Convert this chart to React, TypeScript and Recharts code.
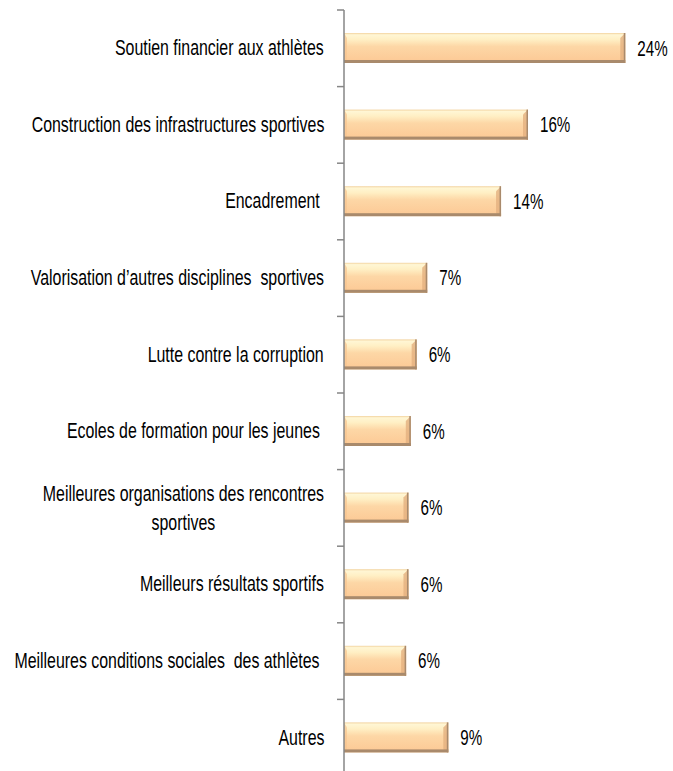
import React from "react";
import { BarChart, Bar, XAxis, YAxis, LabelList } from "recharts";

// Catégories (de haut en bas)
const categories = [
  "Soutien financier aux athlètes",
  "Construction des infrastructures sportives",
  "Encadrement ",
  "Valorisation d’autres disciplines  sportives",
  "Lutte contre la corruption",
  "Ecoles de formation pour les jeunes ",
  "Meilleures organisations des rencontres\nsportives",
  "Meilleurs résultats sportifs",
  "Meilleures conditions sociales  des athlètes ",
  "Autres",
];

const values = [24, 15.7, 13.4, 7.1, 6.2, 5.7, 5.5, 5.5, 5.3, 8.9];

// Étiquettes affichées
const valueLabels = ["24%", "16%", "14%", "7%", "6%", "6%", "6%", "6%", "6%", "9%"];

const data = categories.map((name, i) => ({
  name,
  value: values[i],
  label: valueLabels[i],
}));

const FONT = "'Liberation Sans', Arial, sans-serif";
const AXIS_COLOR = "#868686";

const CategoryTick = (props: any) => {
  const { x, y, payload, index } = props;
  const off = payload?.offset || 38.3;
  const last = index === categories.length - 1;
  return (
    <g>
      <line x1={x - 7} x2={x} y1={y - off} y2={y - off} stroke={AXIS_COLOR} strokeWidth={1.5} />
      {last && <line x1={x - 7} x2={x} y1={y + off} y2={y + off} stroke={AXIS_COLOR} strokeWidth={1.5} />}
      <foreignObject x={0} y={y - off} width={x} height={off * 2}>
        <div
          style={{
            display: "flex",
            height: "100%",
            alignItems: "center",
            justifyContent: "flex-end",
            paddingRight: 20,
            boxSizing: "border-box",
          }}
        >
          <div
            style={{
              textAlign: "center",
              whiteSpace: "pre",
              fontFamily: FONT,
              fontSize: 18.5,
              lineHeight: "24px",
              color: "#000",
              transform: "scale(0.86, 1.2)",
              transformOrigin: "right center",
            }}
          >
            {payload.value}
          </div>
        </div>
      </foreignObject>
    </g>
  );
};

const BevelBar = (props: any) => {
  const { x, y, width, height } = props;
  if (!width || width <= 0) return null;
  return (
    <g>
      <rect x={x} y={y} width={width} height={height} fill="url(#barGrad)" />
      <polygon
        points={`${x + width - 5},${y + 5} ${x + width},${y} ${x + width},${y + height} ${x + width - 5},${y + height - 3}`}
        fill="#E3B07F"
        opacity={0.8}
      />
      <polygon
        points={`${x},${y} ${x + 3},${y + 5} ${x + 3},${y + height - 3} ${x},${y + height}`}
        fill="#F6C590"
        opacity={0.7}
      />
      <rect x={x} y={y + height - 3} width={width} height={3} fill="#A98A6C" />
      <rect x={x + width - 1.5} y={y} width={1.5} height={height} fill="#A98A6C" />
    </g>
  );
};

const ValueLabel = (props: any) => {
  const { x, y, width, height, value } = props;
  return (
    <g transform={`translate(${x + width + 12},${y + height / 2}) scale(0.82,1.2)`}>
      <text x={0} y={0} dominantBaseline="central" fontFamily={FONT} fontSize={18.5} fill="#000">
        {value}
      </text>
    </g>
  );
};

export default function App() {
  return (
    <div
      style={{
        position: "fixed",
        left: 0,
        top: 0,
        width: 673,
        height: 771,
        overflow: "hidden",
        background: "#fff",
      }}
    >
      <BarChart
        width={673}
        height={780}
        data={data}
        layout="vertical"
        margin={{ top: 10, right: 36, bottom: 4, left: 0 }}
        barSize={30}
      >
        <defs>
          <linearGradient id="barGrad" x1="0" y1="0" x2="0" y2="1">
            <stop offset="0%" stopColor="#F2D29E" />
            <stop offset="6%" stopColor="#FFF6D4" />
            <stop offset="22%" stopColor="#FFEFC4" />
            <stop offset="45%" stopColor="#FDD7A6" />
            <stop offset="100%" stopColor="#FCC894" />
          </linearGradient>
        </defs>
        <XAxis type="number" hide domain={[0, 25]} />
        <YAxis
          type="category"
          dataKey="name"
          width={344}
          axisLine={{ stroke: AXIS_COLOR, strokeWidth: 1.5 }}
          tickLine={false}
          tickSize={0}
          tickMargin={0}
          interval={0}
          tick={<CategoryTick />}
        />
        <Bar dataKey="value" shape={<BevelBar />} isAnimationActive={false}>
          <LabelList dataKey="label" content={<ValueLabel />} />
        </Bar>
      </BarChart>
    </div>
  );
}
